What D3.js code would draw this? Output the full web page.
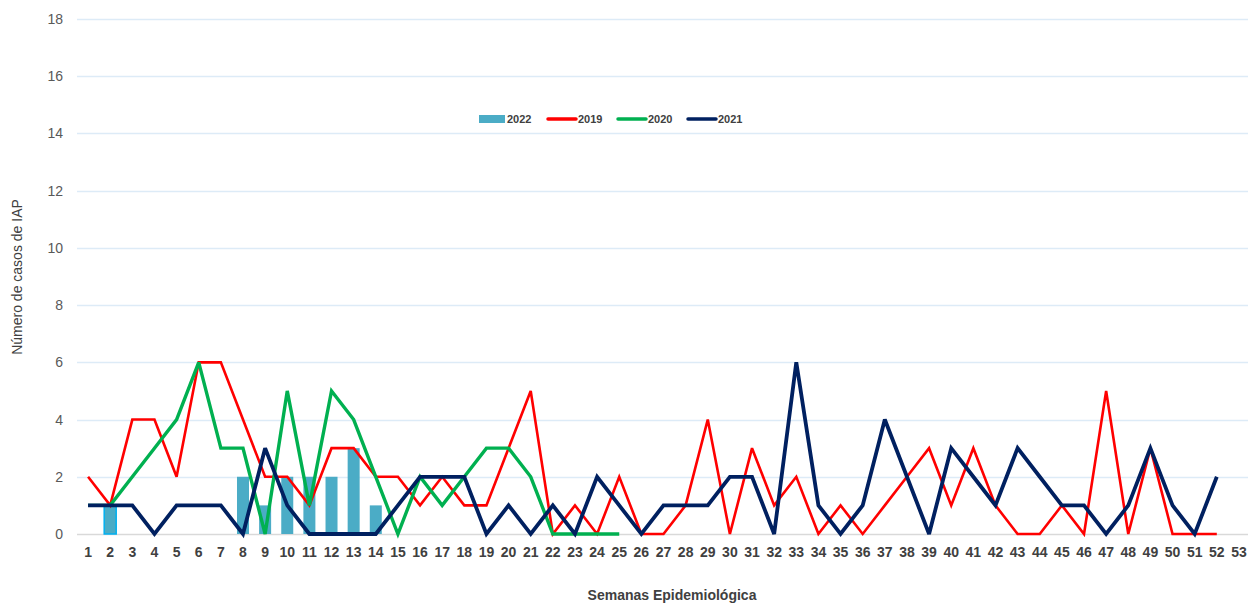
<!DOCTYPE html>
<html>
<head>
<meta charset="utf-8">
<script src="https://cdn.jsdelivr.net/npm/d3@7"></script>
<style>
  html, body { margin: 0; padding: 0; background: #fff; }
  svg { display: block; font-family: "Liberation Sans", Arial, sans-serif; }
</style>
</head>
<body>
<svg id="chart" width="1248" height="603"></svg>
<script>
// Epidemiological weeks 1..53
const weeks = d3.range(1, 54);
const yTicks = [0, 2, 4, 6, 8, 10, 12, 14, 16, 18];

// 2022 cases (bars)
const cases2022 = [0, 1, 0, 0, 0, 0, 0, 2, 1, 2, 2, 2, 3, 1];
// 2019 cases
const cases2019 = [2, 1, 4, 4, 2, 6, 6, 4, 2, 2, 1, 3, 3, 2, 2, 1, 2, 1, 1, 3, 5, 0, 1, 0, 2, 0,
                   0, 1, 4, 0, 3, 1, 2, 0, 1, 0, 1, 2, 3, 1, 3, 1, 0, 0, 1, 0, 5, 0, 3, 0, 0, 0];
// 2020 cases
const cases2020 = [1, 1, 2, 3, 4, 6, 3, 3, 0, 5, 1, 5, 4, 2, 0, 2, 1, 2, 3, 3, 2, 0, 0, 0, 0];
// 2021 cases
const cases2021 = [1, 1, 1, 0, 1, 1, 1, 0, 3, 1, 0, 0, 0, 0, 1, 2, 2, 2, 0, 1, 0, 1, 0, 2, 1, 0,
                   1, 1, 1, 2, 2, 0, 6, 1, 0, 1, 4, 2, 0, 3, 2, 1, 3, 2, 1, 1, 0, 1, 3, 1, 0, 2];

const svg = d3.select("#chart");
const margin = { left: 77, right: -2, top: 19, bottom: 69 };
const W = 1248, H = 603;

const x = d3.scaleBand()
  .domain(weeks)
  .range([margin.left, W - margin.right])
  .paddingInner(0).paddingOuter(0);

const y = d3.scaleLinear()
  .domain([0, 18])
  .range([H - margin.bottom, margin.top]);

const cx = w => x(w) + x.bandwidth() / 2;

// Horizontal gridlines
svg.append("g")
  .selectAll("line")
  .data(yTicks)
  .join("line")
  .attr("x1", margin.left)
  .attr("x2", W)
  .attr("y1", d => Math.round(y(d)) + 0.5)
  .attr("y2", d => Math.round(y(d)) + 0.5)
  .attr("stroke", d => d === 0 ? "#d9d9d9" : "#ddebf7")
  .attr("stroke-width", 1.3);

// Y axis labels
const yAxis = d3.axisLeft(y).tickValues(yTicks).tickSize(0).tickPadding(14);
svg.append("g")
  .attr("transform", `translate(${margin.left},0)`)
  .call(yAxis)
  .call(g => g.select(".domain").remove())
  .call(g => g.selectAll("text")
    .attr("font-size", 14)
    .attr("fill", "#595959")
    .attr("font-family", "Liberation Sans, Arial, sans-serif"));

// X axis labels
const xAxis = d3.axisBottom(x).tickSize(0).tickPadding(13);
svg.append("g")
  .attr("transform", `translate(0,${y(0)})`)
  .call(xAxis)
  .call(g => g.select(".domain").remove())
  .call(g => g.selectAll("text")
    .attr("font-size", 14)
    .attr("font-weight", "bold")
    .attr("fill", "#404040")
    .attr("font-family", "Liberation Sans, Arial, sans-serif"));

// 2022 bars
const barW = 12;
svg.append("g")
  .selectAll("rect")
  .data(cases2022.map((v, i) => ({ week: i + 1, v })).filter(d => d.v > 0))
  .join("rect")
  .attr("x", d => cx(d.week) - barW / 2)
  .attr("y", d => y(d.v))
  .attr("width", barW)
  .attr("height", d => y(0) - y(d.v))
  .attr("fill", "#4bacc6")
  .attr("stroke", d => d.week === 2 ? "#00b0f0" : "none")
  .attr("stroke-width", 1.5);

// Line series
const line = d3.line()
  .x((d, i) => cx(i + 1))
  .y(d => y(d));

const series = [
  { name: "2019", data: cases2019, color: "#ff0000", width: 2.6 },
  { name: "2020", data: cases2020, color: "#00b050", width: 3.4 },
  { name: "2021", data: cases2021, color: "#002060", width: 3.8 }
];

svg.append("g")
  .selectAll("path")
  .data(series)
  .join("path")
  .attr("d", d => line(d.data))
  .attr("fill", "none")
  .attr("stroke", d => d.color)
  .attr("stroke-width", d => d.width)
  .attr("stroke-linejoin", "miter")
  .attr("stroke-miterlimit", 3);

// Legend
const legend = svg.append("g").attr("font-size", 11).attr("font-weight", "bold").attr("fill", "#404040");
const legY = 119;
legend.append("rect").attr("x", 479).attr("y", legY - 4).attr("width", 26).attr("height", 8).attr("fill", "#4bacc6");
legend.append("text").attr("x", 507).attr("y", legY + 4).text("2022");
const legItems = [
  { s: series[0], x: 548 },
  { s: series[1], x: 618 },
  { s: series[2], x: 688 }
];
legItems.forEach(it => {
  legend.append("line")
    .attr("x1", it.x).attr("x2", it.x + 28)
    .attr("y1", legY).attr("y2", legY)
    .attr("stroke", it.s.color).attr("stroke-width", 3.5).attr("stroke-linecap", "round");
  legend.append("text").attr("x", it.x + 30).attr("y", legY + 4).text(it.s.name);
});

// Axis titles
svg.append("text")
  .attr("x", 672).attr("y", 600)
  .attr("text-anchor", "middle")
  .attr("font-size", 14).attr("font-weight", "bold").attr("fill", "#404040")
  .text("Semanas Epidemiológica");

svg.append("text")
  .attr("transform", "translate(22,277) rotate(-90)")
  .attr("text-anchor", "middle")
  .attr("font-size", 14).attr("fill", "#404040")
  .text("Número de casos de IAP");
</script>
</body>
</html>
